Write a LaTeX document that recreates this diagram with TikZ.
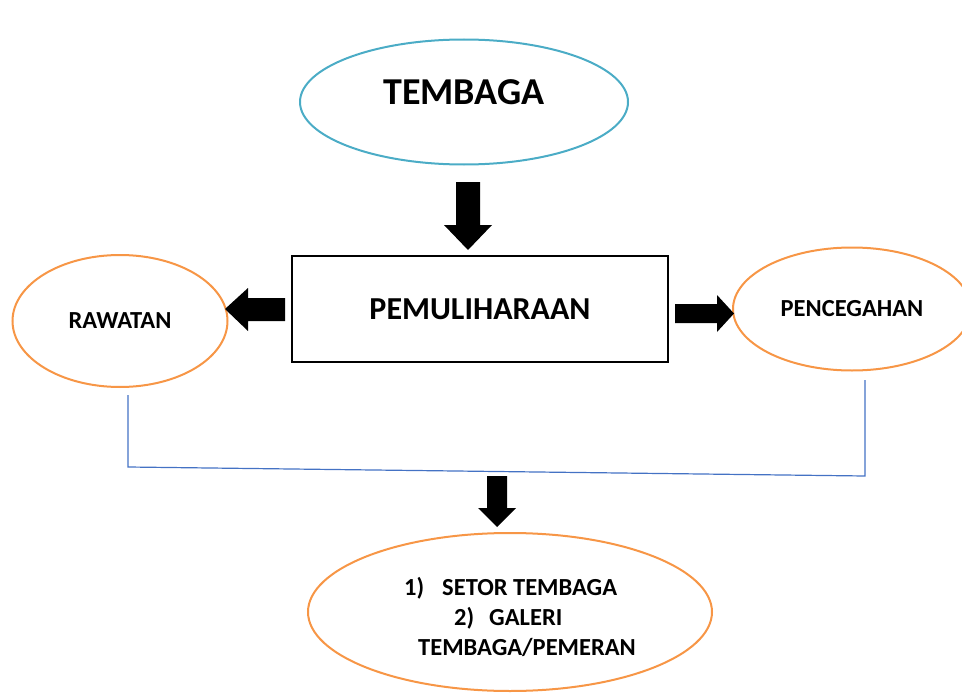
\documentclass[tikz,border=0pt]{standalone}
\usepackage{fontspec}
\setmainfont{Carlito}
\usepackage{xcolor}
\usepackage{tikz}
\usetikzlibrary{shapes.geometric}
\definecolor{tealblue}{HTML}{4BACC6}
\definecolor{oren}{HTML}{F79646}
\definecolor{garisbiru}{HTML}{4472C4}

\begin{document}
\begin{tikzpicture}[x=1pt,y=-1pt,
  every node/.style={font=\bfseries, inner sep=0pt},
  bujur/.style={ellipse, draw=oren, line width=2pt, fill=white},
  blok/.style={fill=black},
  jalur/.style={draw=garisbiru, line width=1.2pt}]
\useasboundingbox (0,0) rectangle (962,693);
% Points
\node[ellipse, draw=tealblue, line width=2pt, minimum width=328, minimum height=125] (tembaga) at (464,102) {};
\node[font=\fontsize{38}{42}\selectfont\bfseries] (tt) at (464,92) {TEMBAGA};
\node[draw, line width=1.6pt, minimum width=376, minimum height=106] (pemuliharaan) at (480,309) {\fontsize{32}{36}\selectfont PEMULIHARAAN};
\node[bujur, minimum width=215, minimum height=132] (rawatan) at (120,321) {\fontsize{24.5}{28}\selectfont RAWATAN};
\node[bujur, minimum width=238, minimum height=123] (pencegahan) at (852,309) {\fontsize{24.5}{28}\selectfont PENCEGAHAN};
\node[bujur, minimum width=404, minimum height=158] (simpan) at (510,612) {};
\node[align=left, font=\fontsize{24.5}{30}\selectfont\bfseries] (daftar) at (520,617) {1)\hspace{18pt}SETOR TEMBAGA\\
\hspace{50pt}2)\hspace{15pt}GALERI\\
\hspace{14pt}TEMBAGA/PEMERAN};
% Arrows
\coordinate (a1) at (468,182);
\coordinate (a2) at (285,309);
\coordinate (a3) at (675,313.5);
\coordinate (a4) at (497,476);
\fill[blok] (a1) ++(-12,0) -- ++(24,0) -- ++(0,43) -- ++(12,0) -- ++(-24,25) -- ++(-24,-25) -- ++(12,0) -- cycle;
\fill[blok] (a2) ++(0,-11) -- ++(-37,0) -- ++(0,-10) -- ++(-23,21) -- ++(23,22) -- ++(0,-10) -- ++(37,0) -- cycle;
\fill[blok] (a3) ++(0,-9.5) -- ++(42,0) -- ++(0,-9) -- ++(17,18.5) -- ++(-17,18.5) -- ++(0,-9) -- ++(-42,0) -- cycle;
\fill[blok] (a4) ++(-10,0) -- ++(20,0) -- ++(0,32) -- ++(9,0) -- ++(-19,19) -- ++(-19,-19) -- ++(9,0) -- cycle;
% Lines
\coordinate (r1) at (128,395);
\coordinate (r2) at (128,467);
\coordinate (p1) at (865,380);
\coordinate (p2) at (865,476);
\draw[jalur] (r1) -- (r2) -- (p2) -- (p1);
\end{tikzpicture}
\end{document}
